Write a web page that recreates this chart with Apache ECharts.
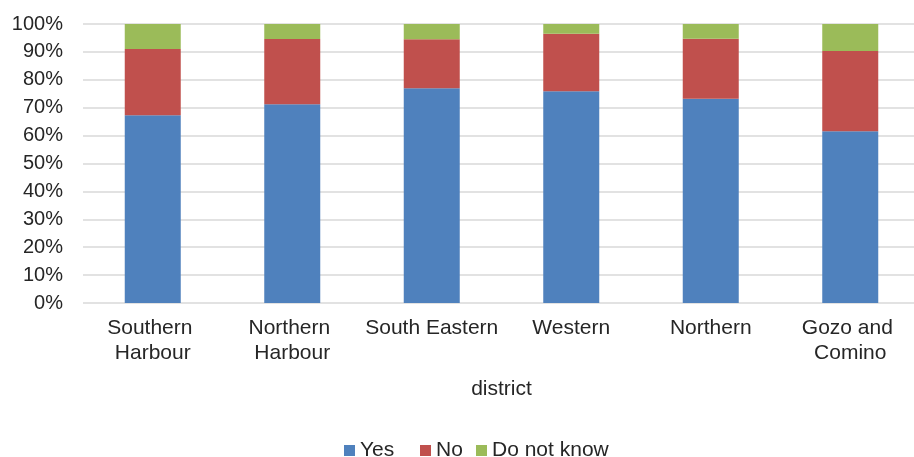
<!DOCTYPE html>
<html><head><meta charset="utf-8">
<script src="https://cdn.jsdelivr.net/npm/echarts@6/dist/echarts.min.js"></script>
<style>html,body{margin:0;padding:0;background:#fff;overflow:hidden}#c{width:923px;height:457px}</style>
</head><body><div id="c"></div>
<script>
const categories = ["Southern Harbour","Northern Harbour","South Eastern","Western","Northern","Gozo and Comino"];
const yesVals = [67.3, 71.2, 77.0, 75.9, 73.2, 61.6];
const noVals = [23.7, 23.4, 17.5, 20.6, 21.5, 28.7];
const dkVals = [9.0, 5.4, 5.5, 3.5, 5.3, 9.7];
const seriesNames = ["Yes","No","Do not know"];
const colors = ["#4F81BD","#C0504D","#9BBB59"];
const font = "'Liberation Sans', Arial, sans-serif";
const txt = "#262626";
const chart = echarts.init(document.getElementById('c'));
const vals = [yesVals, noVals, dkVals];
const legendLefts = [344, 420, 476];
chart.setOption({
  animation:false,
  textStyle:{fontFamily:font},
  grid:{left:83, top:24, right:0, height:279, containLabel:false},
  legend: seriesNames.map((n,i)=>({top:440, left:legendLefts[i], padding:0, itemWidth:11, itemHeight:11,
    icon:'rect', textStyle:{fontSize:21, color:txt, fontFamily:font},
    data:[n]})),
  xAxis:{type:'category', data:categories, name:'district', nameLocation:'middle', nameGap:76,
    nameTextStyle:{fontSize:21, color:txt, fontFamily:font},
    axisLine:{show:false}, axisTick:{show:false},
    axisLabel:{fontSize:21, color:txt, margin:13, width:140, overflow:'break', lineHeight:25, interval:0, fontFamily:font}},
  yAxis:{type:'value', min:0, max:100, interval:10,
    axisLabel:{formatter:'{value}%', fontSize:20, color:txt, margin:20, fontFamily:font},
    splitLine:{lineStyle:{color:'#D9D9D9', width:1.5}}, axisLine:{show:false}, axisTick:{show:false}},
  series: seriesNames.map((n,i)=>({name:n, type:'bar', stack:'s', data:vals[i], barWidth:56,
    itemStyle:{color:colors[i]}}))
});
</script></body></html>
